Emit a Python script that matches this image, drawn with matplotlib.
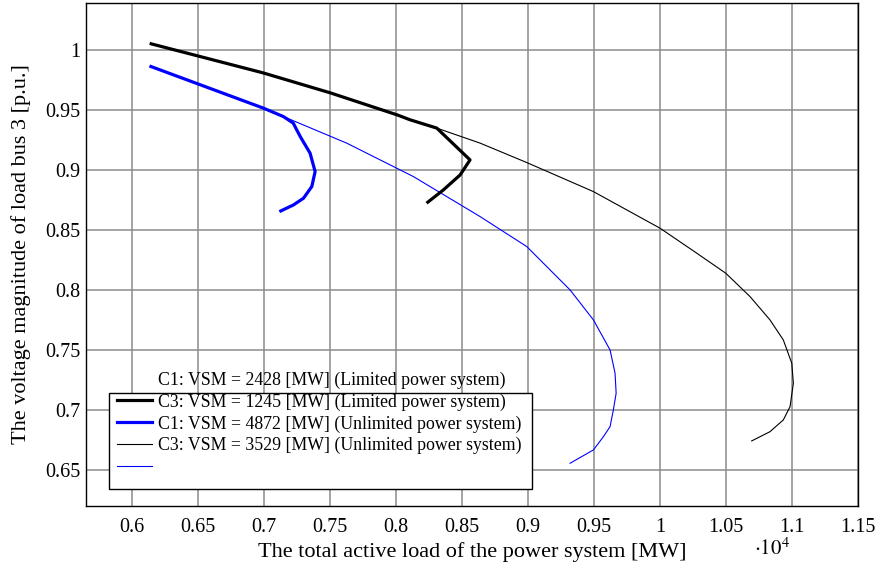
import matplotlib
matplotlib.use("Agg")
import matplotlib.pyplot as plt
from matplotlib.ticker import FuncFormatter, MultipleLocator
from matplotlib.lines import Line2D
from matplotlib.patches import Rectangle

plt.rcParams["font.family"] = ["Liberation Serif", "DejaVu Serif"]
plt.rcParams["mathtext.fontset"] = "stix"

# total active load [MW] and voltage magnitude [p.u.]
c1_lim_p = [6144, 6992, 7500, 8008, 8106, 8308, 8560, 8485, 8358, 8240]
c1_lim_v = [1.005, 0.9808, 0.9642, 0.9458, 0.9417, 0.9348, 0.9083, 0.8958, 0.8833, 0.8731]

c3_lim_p = [6142, 6995, 7146, 7220, 7273, 7348, 7386, 7361, 7298, 7222, 7126]
c3_lim_v = [0.9861, 0.9514, 0.9444, 0.939, 0.9278, 0.9139, 0.8986, 0.8861, 0.8764, 0.8708, 0.8658]

c1_unl_p = [8308, 8636, 8990, 9495, 10000, 10278, 10498, 10682, 10833, 10934,
            10998, 11010, 10985, 10934, 10833, 10694]
c1_unl_v = [0.9348, 0.9223, 0.9061, 0.8819, 0.8514, 0.8306, 0.8139, 0.7944, 0.775, 0.7583,
            0.7389, 0.7222, 0.7028, 0.6917, 0.6819, 0.6742]

c3_unl_p = [7146, 7627, 8131, 8636, 8990, 9318, 9495, 9621, 9659, 9667,
            9646, 9621, 9571, 9495, 9318]
c3_unl_v = [0.9444, 0.9222, 0.8944, 0.8611, 0.8361, 0.80, 0.775, 0.75, 0.7306, 0.7139,
            0.700, 0.6861, 0.6778, 0.6667, 0.6556]

labels = ["C1: VSM = 2428 [MW] (Limited power system)",
          "C3: VSM = 1245 [MW] (Limited power system)",
          "C1: VSM = 4872 [MW] (Unlimited power system)",
          "C3: VSM = 3529 [MW] (Unlimited power system)"]

fig = plt.figure(figsize=(8.75, 5.7), dpi=100)
ax = fig.add_axes([0.0983, 0.1123, 0.8823, 0.8824])

ax.plot(c1_unl_p, c1_unl_v, color="black", lw=0.8, zorder=3)
ax.plot(c3_unl_p, c3_unl_v, color="blue", lw=0.8, zorder=3)
ax.plot(c1_lim_p, c1_lim_v, color="black", lw=2.3, zorder=4, solid_joinstyle="round")
ax.plot(c3_lim_p, c3_lim_v, color="blue", lw=2.3, zorder=4, solid_joinstyle="round")

ax.set_xlim(5650, 11500)
ax.set_ylim(0.62, 1.039)
ax.xaxis.set_major_locator(MultipleLocator(500))
ax.yaxis.set_major_locator(MultipleLocator(0.05))
ax.xaxis.set_major_formatter(FuncFormatter(lambda v, _: f"{round(v / 1e4, 3):g}"))
ax.yaxis.set_major_formatter(FuncFormatter(lambda v, _: f"{round(v, 3):g}"))
ax.grid(True, color="#8c8c8c", lw=1.1)
ax.set_axisbelow(True)
ax.tick_params(direction="in", length=0, labelsize=14.5)
ax.tick_params(axis="x", pad=9)
ax.tick_params(axis="y", pad=4)
for s in ax.spines.values():
    s.set_linewidth(1.0)

ax.set_xlabel("The total active load of the power system [MW]", fontsize=16, labelpad=3)
ax.set_ylabel("The voltage magnitude of load bus 3 [p.u.]", fontsize=16, labelpad=10)
ax.text(0.889, -0.098, r"$\cdot 10^4$", transform=ax.transAxes, fontsize=15, ha="center")

# legend: pgfplots put the first label above the box, last line unlabeled
box = Rectangle((0.0298, 0.0338), 0.548, 0.1909, transform=ax.transAxes,
                facecolor="white", edgecolor="black", lw=1.0, zorder=5)
ax.add_patch(box)
handles = [Line2D([], [], color="black", lw=2.3),
           Line2D([], [], color="blue", lw=2.3),
           Line2D([], [], color="black", lw=0.8),
           Line2D([], [], color="blue", lw=0.8)]
leg = ax.legend(handles, labels[1:] + [""], loc="upper left",
                bbox_to_anchor=(0.0376, 0.2276), fontsize=12.8, frameon=False,
                handlelength=2.0, handletextpad=0.34, labelspacing=0.26,
                borderpad=0.1, borderaxespad=0)
leg.set_zorder(6)
ax.text(0.0933, 0.2505, labels[0], transform=ax.transAxes, fontsize=12.8,
        va="center", zorder=6)

fig.savefig("out.png", dpi=100)
